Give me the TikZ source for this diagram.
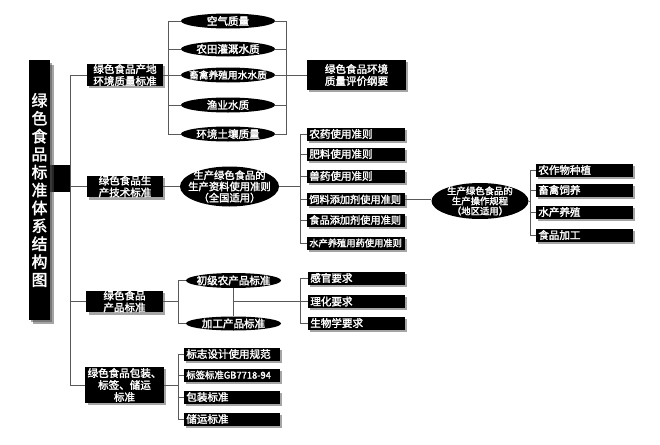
\documentclass[tikz,border=0pt]{standalone}
\usepackage{fontspec}
\setmainfont{Noto Sans CJK SC}[FakeBold=2]
\usetikzlibrary{shadows}

\begin{document}
\begin{tikzpicture}[x=0.03cm,y=-0.03cm,
    oval/.style n args={2}{minimum width=#1, minimum height=#2,
        path picture={\fill[black] (path picture bounding box.center) ellipse [x radius=0.5*#1, y radius=0.5*#2];}},
    tag/.style={minimum width=#1, minimum height=0.39cm, align=left}]
    \useasboundingbox (0,0) rectangle (660,445);
    \node[fill=black, minimum width=0.6cm, minimum height=0.81cm, inner sep=0pt] (stem) at (60,178.5) {};
    \begin{scope}[every node/.style={fill=black, text=white, inner sep=0pt, inner xsep=2pt,
        font=\fontsize{9}{10.2}\selectfont,
        drop shadow={shadow xshift=2pt, shadow yshift=-2pt, fill=black!70}}]
        \node[minimum width=0.63cm, minimum height=7.77cm, align=center, font=\fontsize{13.5}{15.3}\selectfont,
            drop shadow={shadow xshift=3pt, shadow yshift=-4pt, fill=black!70}] (title) at (39.5,190)
            {绿\\色\\食\\品\\标\\准\\体\\系\\结\\构\\图};
        \node[minimum width=2.28cm, minimum height=0.66cm, align=center] (env) at (125,75) {绿色食品产地\\环境质量标准};
        \node[minimum width=2.28cm, minimum height=0.63cm, align=center] (tech) at (125,186.5) {绿色食品生\\产技术标准};
        \node[minimum width=2.28cm, minimum height=0.63cm, align=center] (prod) at (124.5,301.5) {绿色食品\\产品标准};
        \node[minimum width=2.28cm, minimum height=1.08cm, align=center] (pack) at (124.5,385) {绿色食品包装、\\标签、储运\\标准};
        \node[minimum width=2.97cm, minimum height=0.9cm, align=center] (eval) at (356.5,75) {绿色食品环境\\质量评价纲要};
        \node[tag, text width=2.8cm] (pest) at (356,134) {农药使用准则};
        \node[tag, text width=2.8cm] (fert) at (356,154) {肥料使用准则};
        \node[tag, text width=2.8cm] (vet) at (356,176) {兽药使用准则};
        \node[tag, text width=2.8cm, font=\fontsize{8.7}{9}\selectfont] (feed) at (356,199.5) {饲料添加剂使用准则};
        \node[tag, text width=2.8cm, font=\fontsize{8.7}{9}\selectfont] (addi) at (356,220) {食品添加剂使用准则};
        \node[tag, text width=2.8cm, font=\fontsize{7.9}{9}\selectfont] (aqua) at (356,243) {水产养殖用药使用准则};
        \node[tag, text width=2.77cm] (crop) at (584.5,170) {农作物种植};
        \node[tag, text width=2.77cm] (live) at (584.5,190) {畜禽饲养};
        \node[tag, text width=2.77cm] (fish) at (584.5,212) {水产养殖};
        \node[tag, text width=2.77cm] (proc) at (584.5,235) {食品加工};
        \node[tag, text width=2.77cm] (sens) at (356.5,278) {感官要求};
        \node[tag, text width=2.77cm] (phys) at (356.5,301.5) {理化要求};
        \node[tag, text width=2.77cm] (bio) at (356.5,323) {生物学要求};
        \node[tag, text width=2.74cm] (logo) at (232,354) {标志设计使用规范};
        \node[tag, text width=2.74cm, font=\fontsize{8}{9}\selectfont] (label) at (232,375) {\mbox{标签标准GB7718-94}};
        \node[tag, text width=2.74cm] (wrap) at (232,397) {包装标准};
        \node[tag, text width=2.74cm] (store) at (232,419) {储运标准};
    \end{scope}
    \begin{scope}[every node/.style={text=white, inner sep=0pt, align=center, font=\fontsize{9}{10.2}\selectfont}]
        \node[oval={2.82cm}{0.45cm}] (air) at (228,21) {空气质量};
        \node[oval={2.82cm}{0.45cm}] (irri) at (228,49) {农田灌溉水质};
        \node[oval={2.82cm}{0.45cm}, font=\fontsize{8.3}{9}\selectfont] (water) at (228,75) {畜禽养殖用水水质};
        \node[oval={2.82cm}{0.45cm}] (fishw) at (228,105) {渔业水质};
        \node[oval={2.82cm}{0.45cm}] (soil) at (228,134) {环境土壤质量};
        \node[oval={2.97cm}{1.2cm}, font=\fontsize{8.8}{9.6}\selectfont] (means) at (229.5,186.5) {生产绿色食品的\\生产资料使用准则\\（全国适用）};
        \node[oval={2.91cm}{1.08cm}, font=\fontsize{8}{8.6}\selectfont] (ops) at (480,201) {生产绿色食品的\\生产操作规程\\（地区适用）};
        \node[oval={2.85cm}{0.45cm}] (prim) at (233.5,280.5) {初级农产品标准};
        \node[oval={2.85cm}{0.42cm}] (made) at (233.5,323.5) {加工产品标准};
    \end{scope}
    \coordinate (t) at (70,186.5);
    \coordinate (b1) at (168,75);
    \coordinate (b2) at (286,75);
    \coordinate (b3) at (300,186.5);
    \coordinate (b4) at (530,201);
    \coordinate (b5) at (178,301.5);
    \coordinate (b6) at (300,301.5);
    \coordinate (b7) at (178,385);
    \begin{scope}[draw=black!65, line width=0.7pt]
        \draw (tech.west) -- (t);
        \foreach \n in {env,prod,pack}
            \draw (\n.west) -| (t);
        \draw (env.east) -- (b1);
        \foreach \n in {air,irri,water,fishw,soil}
            \draw (\n.west) -| (b1);
        \foreach \n in {air,irri,water,fishw,soil}
            \draw (\n.east) -| (b2);
        \draw (b2) -- (eval.west);
        \draw (tech.east) -- (means.west);
        \draw (means.east) -- (b3);
        \foreach \n in {pest,fert,vet,feed,addi,aqua}
            \draw (\n.west) -| (b3);
        \draw (feed.east) -- (feed.east -| ops.west);
        \draw (ops.east) -- (b4);
        \foreach \n in {crop,live,fish,proc}
            \draw (\n.west) -| (b4);
        \draw (prod.east) -- (b5);
        \foreach \n in {prim,made}
            \draw (\n.west) -| (b5);
        \draw (prim.south) -- (made.north);
        \draw (prim.south |- b6) -- (b6);
        \foreach \n in {sens,phys,bio}
            \draw (\n.west) -| (b6);
        \draw (pack.east) -- (b7);
        \foreach \n in {logo,label,wrap,store}
            \draw (\n.west) -| (b7);
    \end{scope}
\end{tikzpicture}
\end{document}
